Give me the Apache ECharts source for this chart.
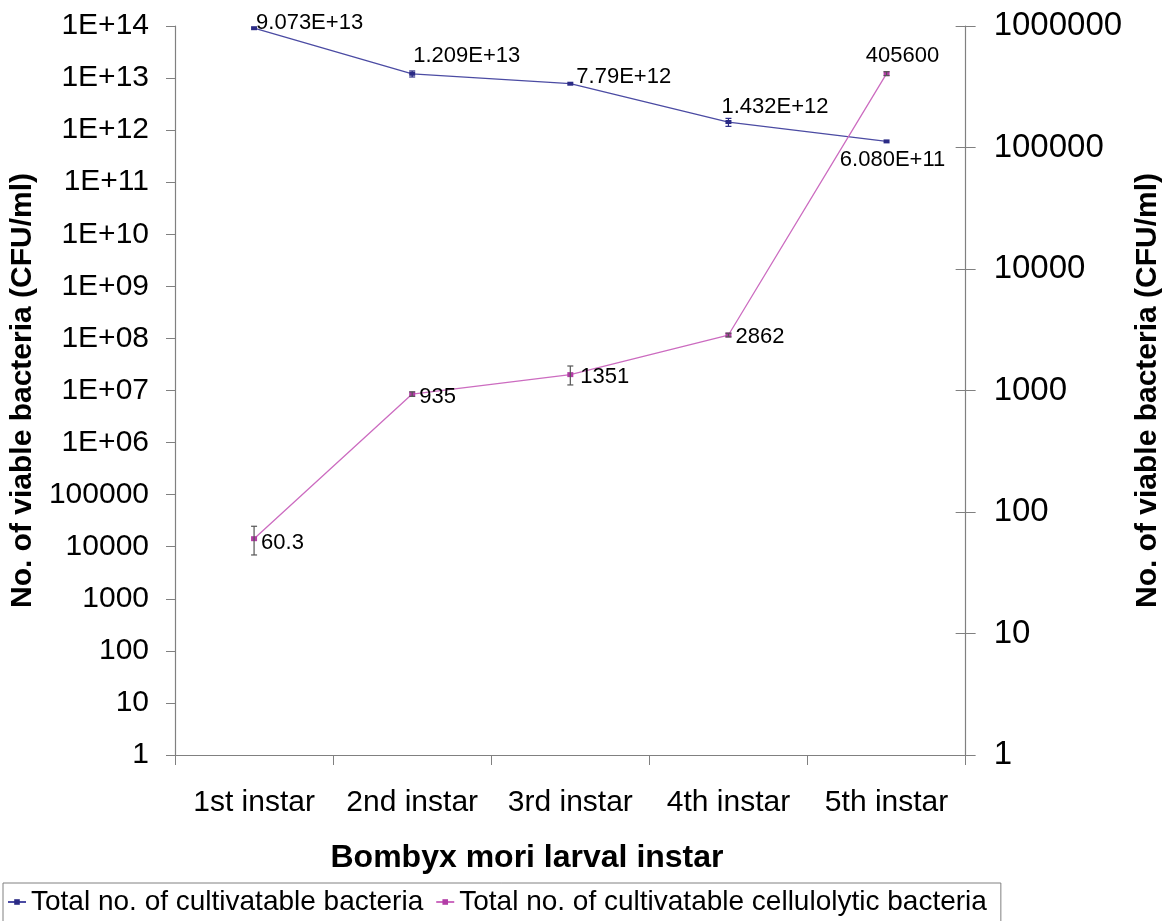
<!DOCTYPE html>
<html>
<head>
<meta charset="utf-8">
<script src="https://cdn.jsdelivr.net/npm/echarts@6/dist/echarts.min.js"></script>
<style>
  html, body { margin: 0; padding: 0; background: #ffffff; }
  #chart { width: 1171px; height: 921px; }
</style>
</head>
<body>
<div id="chart"></div>
<script>
// ---- data ----
const categories = ['1st instar', '2nd instar', '3rd instar', '4th instar', '5th instar'];
const totalBacteria = [9.073e13, 1.209e13, 7.79e12, 1.432e12, 6.080e11];
const totalBacteriaErr = [0, 1.6e12, 0, 2.5e11, 0];
const totalBacteriaLabels = ['9.073E+13', '1.209E+13', '7.79E+12', '1.432E+12', '6.080E+11'];
const cellulolytic = [60.3, 935, 1351, 2862, 405600];
const cellulolyticErr = [16, 40, 240, 100, 15000];
const cellulolyticLabels = ['60.3', '935', '1351', '2862', '405600'];
const leftTickLabels = ['1', '10', '100', '1000', '10000', '100000', '1E+06', '1E+07', '1E+08',
  '1E+09', '1E+10', '1E+11', '1E+12', '1E+13', '1E+14'];
const rightTickLabels = ['1', '10', '100', '1000', '10000', '100000', '1000000'];
const seriesNames = ['Total no. of cultivatable bacteria', 'Total no. of cultivatable cellulolytic bacteria'];

// ---- presentation ----
const FONT = '"Liberation Sans", Arial, sans-serif';
const blueLine = '#4b4ba3', blueMark = '#2b2b85';
const magLine = '#cc6cc0', magMark = '#b23ca6';

const blueLabelCfg = [
  { position: 'right', offset: [-5, -5] },
  { position: 'right', offset: [-6, -18] },
  { position: 'right', offset: [-1, -7] },
  { position: 'right', offset: [-14, -15] },
  { position: 'bottom', offset: [6, 2] }
];
const magLabelCfg = [
  { position: 'right', offset: [0, 4] },
  { position: 'right', offset: [0, 3] },
  { position: 'right', offset: [3, 2] },
  { position: 'right', offset: [0, 2] },
  { position: 'top', offset: [16, 0] }
];

function expOf(v) { return Math.round(Math.log10(v)); }

function lineData(values, labels, cfg) {
  return values.map((v, i) => ({
    value: v,
    label: Object.assign({ formatter: () => labels[i] }, cfg[i])
  }));
}

function errData(values, errs) {
  return values.map((v, i) => [i, v - errs[i], v + errs[i], errs[i]]);
}

function errRender(color) {
  return function (params, api) {
    if (api.value(3) <= 0) return null;
    const lo = api.coord([api.value(0), api.value(1)]);
    const hi = api.coord([api.value(0), api.value(2)]);
    const hw = 3;
    const style = { stroke: color, lineWidth: 1.2, fill: null };
    return {
      type: 'group',
      children: [
        { type: 'line', shape: { x1: lo[0], y1: lo[1], x2: hi[0], y2: hi[1] }, style },
        { type: 'line', shape: { x1: lo[0] - hw, y1: lo[1], x2: lo[0] + hw, y2: lo[1] }, style },
        { type: 'line', shape: { x1: hi[0] - hw, y1: hi[1], x2: hi[0] + hw, y2: hi[1] }, style }
      ]
    };
  };
}

const chart = echarts.init(document.getElementById('chart'), null, { renderer: 'canvas' });

const option = {
  animation: false,
  backgroundColor: '#ffffff',
  textStyle: { fontFamily: FONT, color: '#000' },
  grid: { left: 174, right: 196, top: 26, height: 729, containLabel: false },
  legend: {
    data: seriesNames,
    left: 3,
    top: 883,
    padding: [5, 14, 20, 4],
    itemGap: 12,
    itemWidth: 18,
    itemHeight: 7,
    borderColor: '#808080',
    borderWidth: 1,
    textStyle: { fontFamily: FONT, fontSize: 28, color: '#000' }
  },
  xAxis: {
    type: 'category',
    data: categories,
    boundaryGap: true,
    axisLine: { lineStyle: { color: '#808080', width: 1.2 } },
    axisTick: { show: true, length: 10, lineStyle: { color: '#808080' } },
    axisLabel: { fontFamily: FONT, fontSize: 30, color: '#000', margin: 33, interval: 0 },
    splitLine: { show: false }
  },
  yAxis: [
    {
      type: 'log', logBase: 10, min: 1, max: 1e14, interval: 1,
      position: 'left',
      name: 'No. of viable bacteria (CFU/ml)',
      nameLocation: 'middle', nameRotate: 90, nameGap: 134,
      nameTextStyle: { fontFamily: FONT, fontSize: 30, fontWeight: 'bold', color: '#000' },
      axisLine: { show: true, lineStyle: { color: '#808080', width: 1.2 } },
      axisTick: { show: true, length: 9, lineStyle: { color: '#808080' } },
      axisLabel: { fontFamily: FONT, fontSize: 30, color: '#000', margin: 26,
        formatter: v => leftTickLabels[expOf(v)] },
      splitLine: { show: false }
    },
    {
      type: 'log', logBase: 10, min: 1, max: 1e6, interval: 1,
      position: 'right',
      name: 'No. of viable bacteria (CFU/ml)',
      nameLocation: 'middle', nameRotate: 90, nameGap: 166,
      nameTextStyle: { fontFamily: FONT, fontSize: 30, fontWeight: 'bold', color: '#000' },
      axisLine: { show: true, lineStyle: { color: '#808080', width: 1.2 } },
      axisTick: { show: true, length: 10, lineStyle: { color: '#808080' } },
      axisLabel: { fontFamily: FONT, fontSize: 33, color: '#000', margin: 28,
        formatter: v => rightTickLabels[expOf(v)] },
      splitLine: { show: false }
    },
    {
      type: 'log', logBase: 10, min: 1, max: 1e6, interval: 1,
      position: 'right',
      axisLine: { show: false },
      axisTick: { show: true, inside: true, length: 10, lineStyle: { color: '#808080' } },
      axisLabel: { show: false },
      splitLine: { show: false }
    }
  ],
  graphic: [
    {
      type: 'text', x: 527, y: 858,
      style: { text: 'Bombyx mori larval instar', textAlign: 'center', textVerticalAlign: 'middle',
        font: 'bold 32px "Liberation Sans", Arial, sans-serif', fill: '#000' }
    }
  ],
  series: [
    {
      name: seriesNames[0],
      type: 'line',
      yAxisIndex: 0,
      data: lineData(totalBacteria, totalBacteriaLabels, blueLabelCfg),
      symbol: 'rect', symbolSize: [6, 4],
      lineStyle: { color: blueLine, width: 1.3 },
      itemStyle: { color: blueMark },
      label: { show: true, fontFamily: FONT, fontSize: 22, color: '#000', distance: 4 },
      z: 3
    },
    {
      name: seriesNames[1],
      type: 'line',
      yAxisIndex: 1,
      data: lineData(cellulolytic, cellulolyticLabels, magLabelCfg),
      symbol: 'rect', symbolSize: [6, 5],
      lineStyle: { color: magLine, width: 1.3 },
      itemStyle: { color: magMark },
      label: { show: true, fontFamily: FONT, fontSize: 22, color: '#000', distance: 4 },
      z: 3
    },
    {
      name: 'err0',
      type: 'custom',
      yAxisIndex: 0,
      data: errData(totalBacteria, totalBacteriaErr),
      encode: { x: 0, y: [1, 2] },
      renderItem: errRender('#2b2b85'),
      z: 4,
      silent: true
    },
    {
      name: 'err1',
      type: 'custom',
      yAxisIndex: 1,
      data: errData(cellulolytic, cellulolyticErr),
      encode: { x: 0, y: [1, 2] },
      renderItem: errRender('#555555'),
      z: 4,
      silent: true
    }
  ]
};

chart.setOption(option);
</script>
</body>
</html>
